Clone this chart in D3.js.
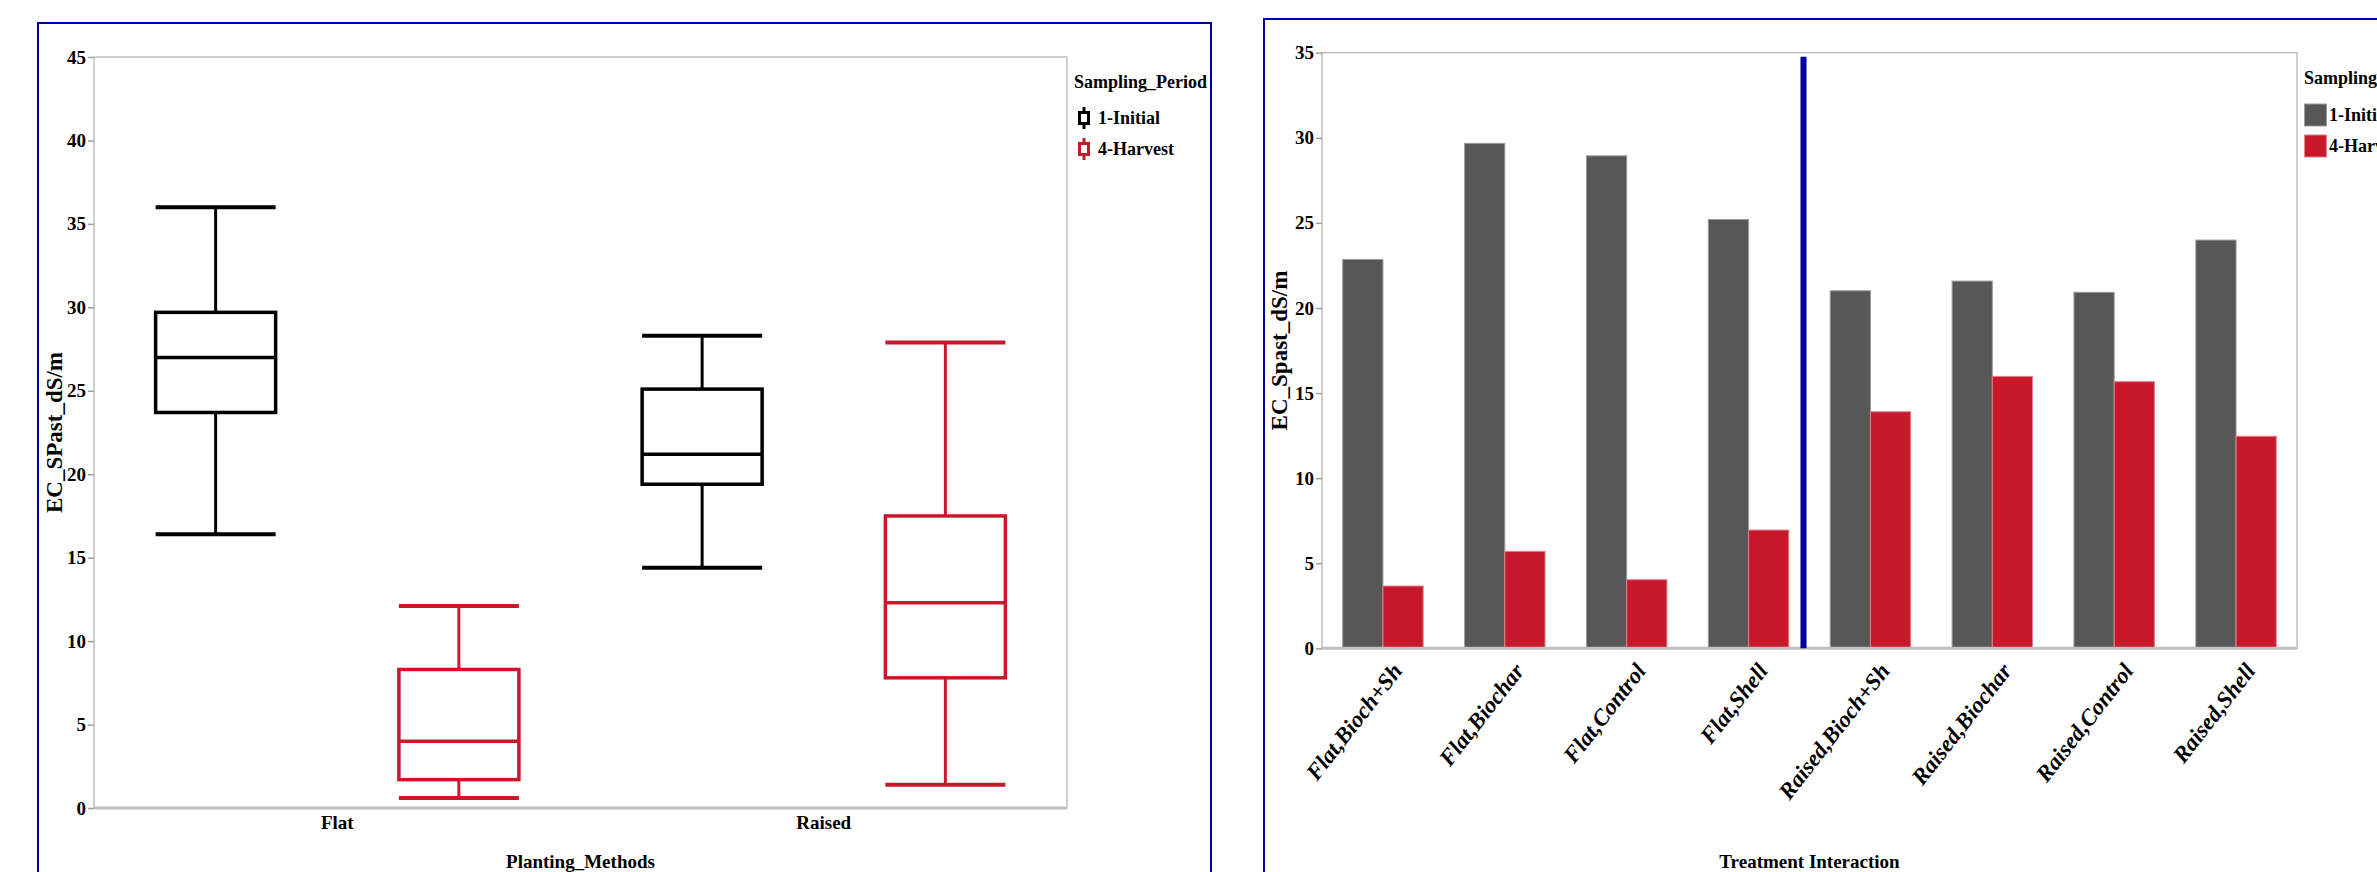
<!DOCTYPE html>
<html>
<head>
<meta charset="utf-8">
<script src="https://cdn.jsdelivr.net/npm/d3@7"></script>
<style>
  html, body { margin: 0; padding: 0; background: #fff; overflow: hidden; }
  text { font-family: "Liberation Serif", "Times New Roman", serif; font-weight: bold; fill: #000; }
</style>
</head>
<body>
<div id="chart"></div>
<script>
// ---- left panel: box plot data (per planting method) ----
const methods = ["Flat", "Raised"];
const periods = ["1-Initial", "4-Harvest"];
const initMin = [16.4, 14.4];
const initQ1  = [23.7, 19.4];
const initMed = [27.0, 21.2];
const initQ3  = [29.7, 25.1];
const initMax = [36.0, 28.3];
const harvMin = [0.6, 1.4];
const harvQ1  = [1.7, 7.8];
const harvMed = [4.0, 12.3];
const harvQ3  = [8.3, 17.5];
const harvMax = [12.1, 27.9];
const boxTicks = [0, 5, 10, 15, 20, 25, 30, 35, 40, 45];

// ---- right panel: bar data ----
const treatments = ["Flat,Bioch+Sh", "Flat,Biochar", "Flat,Control", "Flat,Shell",
                    "Raised,Bioch+Sh", "Raised,Biochar", "Raised,Control", "Raised,Shell"];
const initialMeans = [22.85, 29.67, 28.94, 25.2, 21.01, 21.58, 20.92, 23.99];
const harvestMeans = [3.66, 5.7, 4.03, 6.95, 13.9, 15.98, 15.67, 12.46];
const barTicks = [0, 5, 10, 15, 20, 25, 30, 35];

const colors = {"1-Initial": "#000000", "4-Harvest": "#c8192c"};
const barColors = {"1-Initial": "#575757", "4-Harvest": "#c8192c"};
const barStroke = {"1-Initial": "#9a9a9a", "4-Harvest": "#e0808a"};
const FRAME = "#0000a0", GRID = "#c0c0c0";

const W = 2377, H = 872;
const svg = d3.select("#chart").append("svg").attr("width", W).attr("height", H);

function styleAxis(g){
    g.select(".domain").remove();
    g.selectAll(".tick line").attr("stroke", "#a0a0a0").attr("stroke-width", 1.5);
    g.selectAll(".tick text").attr("font-size", 19).attr("font-family", null);
}

// ================= left panel =================
{
    const P = {left: 94, right: 1067, top: 57, bottom: 808};
    const g = svg.append("g");

    g.append("rect")
        .attr("x", 38).attr("y", 23).attr("width", 1173).attr("height", 900)
        .attr("fill", "none").attr("stroke", FRAME).attr("stroke-width", 2);

    const x = d3.scaleBand().domain(methods).range([P.left, P.right]);
    const xi = d3.scaleBand().domain(periods).range([0, x.bandwidth()]);
    const y = d3.scaleLinear().domain([0, 45]).range([P.bottom, P.top]);

    g.append("rect")
        .attr("x", P.left).attr("y", P.top)
        .attr("width", P.right - P.left).attr("height", P.bottom - P.top)
        .attr("fill", "none").attr("stroke", GRID).attr("stroke-width", 1.5);
    g.append("line")
        .attr("x1", P.left).attr("x2", P.right).attr("y1", P.bottom).attr("y2", P.bottom)
        .attr("stroke", GRID).attr("stroke-width", 3);

    g.append("g").attr("transform", `translate(${P.left},0)`)
        .call(d3.axisLeft(y).tickValues(boxTicks).tickSize(6).tickPadding(2))
        .call(styleAxis);

    g.append("g").attr("transform", `translate(0,${P.bottom})`)
        .call(d3.axisBottom(x).tickSize(0).tickPadding(8))
        .call(ax => { ax.select(".domain").remove();
                      ax.selectAll("text").attr("font-size", 19).attr("font-family", null); });

    const boxes = [];
    methods.forEach((m, i) => {
        boxes.push({m, p: periods[0], lo: initMin[i], q1: initQ1[i], med: initMed[i], q3: initQ3[i], hi: initMax[i]});
        boxes.push({m, p: periods[1], lo: harvMin[i], q1: harvQ1[i], med: harvMed[i], q3: harvQ3[i], hi: harvMax[i]});
    });
    const bw = 120;
    const bg = g.selectAll("g.box").data(boxes).join("g").attr("class", "box")
        .attr("transform", d => `translate(${x(d.m) + xi(d.p) + xi.bandwidth() / 2},0)`)
        .attr("stroke", d => colors[d.p]).attr("fill", "none");
    bg.append("line").attr("x1", 0).attr("x2", 0)
        .attr("y1", d => y(d.hi)).attr("y2", d => y(d.q3)).attr("stroke-width", 3);
    bg.append("line").attr("x1", 0).attr("x2", 0)
        .attr("y1", d => y(d.q1)).attr("y2", d => y(d.lo)).attr("stroke-width", 3);
    bg.append("rect").attr("x", -bw / 2).attr("width", bw)
        .attr("y", d => y(d.q3)).attr("height", d => y(d.q1) - y(d.q3))
        .attr("stroke-width", 3.5).attr("fill", "#fff");
    bg.append("line").attr("x1", -bw / 2).attr("x2", bw / 2)
        .attr("y1", d => y(d.med)).attr("y2", d => y(d.med)).attr("stroke-width", 3.5);
    bg.selectAll("line.cap").data(d => [d.hi, d.lo]).join("line").attr("class", "cap")
        .attr("x1", -bw / 2).attr("x2", bw / 2)
        .attr("y1", v => y(v)).attr("y2", v => y(v)).attr("stroke-width", 4);

    g.append("text").attr("font-size", 23).attr("text-anchor", "middle")
        .attr("transform", `translate(62,${(P.top + P.bottom) / 2}) rotate(-90)`)
        .text("EC_SPast_dS/m");
    g.append("text").attr("font-size", 19).attr("text-anchor", "middle")
        .attr("x", (P.left + P.right) / 2).attr("y", 868)
        .text("Planting_Methods");

    // legend
    const lg = g.append("g").attr("transform", "translate(1074,0)");
    lg.append("text").attr("font-size", 18).attr("x", 0).attr("y", 88).text("Sampling_Period");
    const li = lg.selectAll("g.li").data(periods).join("g").attr("class", "li")
        .attr("transform", (d, i) => `translate(0,${118 + i * 31})`);
    li.append("line").attr("x1", 10).attr("x2", 10).attr("y1", -11).attr("y2", 11)
        .attr("stroke", d => colors[d]).attr("stroke-width", 3);
    li.append("rect").attr("x", 5.5).attr("y", -5.5).attr("width", 9).attr("height", 11)
        .attr("fill", "#fff").attr("stroke", d => colors[d]).attr("stroke-width", 3);
    li.append("text").attr("font-size", 18).attr("x", 24).attr("dy", "0.35em").text(d => d);
}

// ================= right panel =================
{
    const P = {left: 1322, right: 2297, top: 52.7, bottom: 648.3};
    const g = svg.append("g");

    g.append("rect")
        .attr("x", 1264).attr("y", 19).attr("width", 1300).attr("height", 900)
        .attr("fill", "none").attr("stroke", FRAME).attr("stroke-width", 2);

    const x = d3.scaleBand().domain(treatments).range([P.left, P.right])
        .paddingInner(0.34).paddingOuter(0.17);
    const xi = d3.scaleBand().domain(periods).range([0, x.bandwidth()]);
    const y = d3.scaleLinear().domain([0, 35]).range([P.bottom, P.top]);

    g.append("rect")
        .attr("x", P.left).attr("y", P.top)
        .attr("width", P.right - P.left).attr("height", P.bottom - P.top)
        .attr("fill", "none").attr("stroke", GRID).attr("stroke-width", 1.5);

    g.append("g").attr("transform", `translate(${P.left},0)`)
        .call(d3.axisLeft(y).tickValues(barTicks).tickSize(6).tickPadding(2))
        .call(styleAxis);

    const bars = [];
    treatments.forEach((t, i) => {
        bars.push({t, p: periods[0], v: initialMeans[i]});
        bars.push({t, p: periods[1], v: harvestMeans[i]});
    });
    g.selectAll("rect.bar").data(bars).join("rect").attr("class", "bar")
        .attr("x", d => x(d.t) + xi(d.p))
        .attr("width", xi.bandwidth())
        .attr("y", d => y(d.v))
        .attr("height", d => y(0) - y(d.v))
        .attr("fill", d => barColors[d.p])
        .attr("stroke", d => barStroke[d.p]).attr("stroke-width", 1);

    g.append("line")
        .attr("x1", P.left).attr("x2", P.right).attr("y1", P.bottom).attr("y2", P.bottom)
        .attr("stroke", GRID).attr("stroke-width", 3);

    // divider between Flat and Raised groups
    const divX = (x(treatments[3]) + x.bandwidth() + x(treatments[4])) / 2 - 6;
    g.append("line")
        .attr("x1", divX).attr("x2", divX).attr("y1", P.top + 4).attr("y2", P.bottom)
        .attr("stroke", "#00009a").attr("stroke-width", 6);

    g.selectAll("text.tl").data(treatments).join("text").attr("class", "tl")
        .attr("font-size", 23).attr("font-style", "italic").attr("text-anchor", "end")
        .attr("dy", "0.35em")
        .attr("transform", d => `translate(${x(d) + x.bandwidth() / 2 + 14},${P.bottom + 18}) rotate(-52)`)
        .text(d => d);

    g.append("text").attr("font-size", 23).attr("text-anchor", "middle")
        .attr("transform", `translate(1287,${(P.top + P.bottom) / 2}) rotate(-90)`)
        .text("EC_Spast_dS/m");
    g.append("text").attr("font-size", 19).attr("text-anchor", "middle")
        .attr("x", (P.left + P.right) / 2).attr("y", 868)
        .text("Treatment Interaction");

    // legend (runs past the right edge, as in the original)
    const lg = g.append("g").attr("transform", "translate(2304,0)");
    lg.append("text").attr("font-size", 18).attr("x", 0).attr("y", 84).text("Sampling_Period");
    const li = lg.selectAll("g.li").data(periods).join("g").attr("class", "li")
        .attr("transform", (d, i) => `translate(0,${115 + i * 31})`);
    li.append("rect").attr("x", 0.5).attr("y", -11).attr("width", 22).attr("height", 22)
        .attr("fill", d => barColors[d]).attr("stroke", d => barStroke[d]).attr("stroke-width", 1);
    li.append("text").attr("font-size", 18).attr("x", 25).attr("dy", "0.35em").text(d => d);
}
</script>
</body>
</html>
